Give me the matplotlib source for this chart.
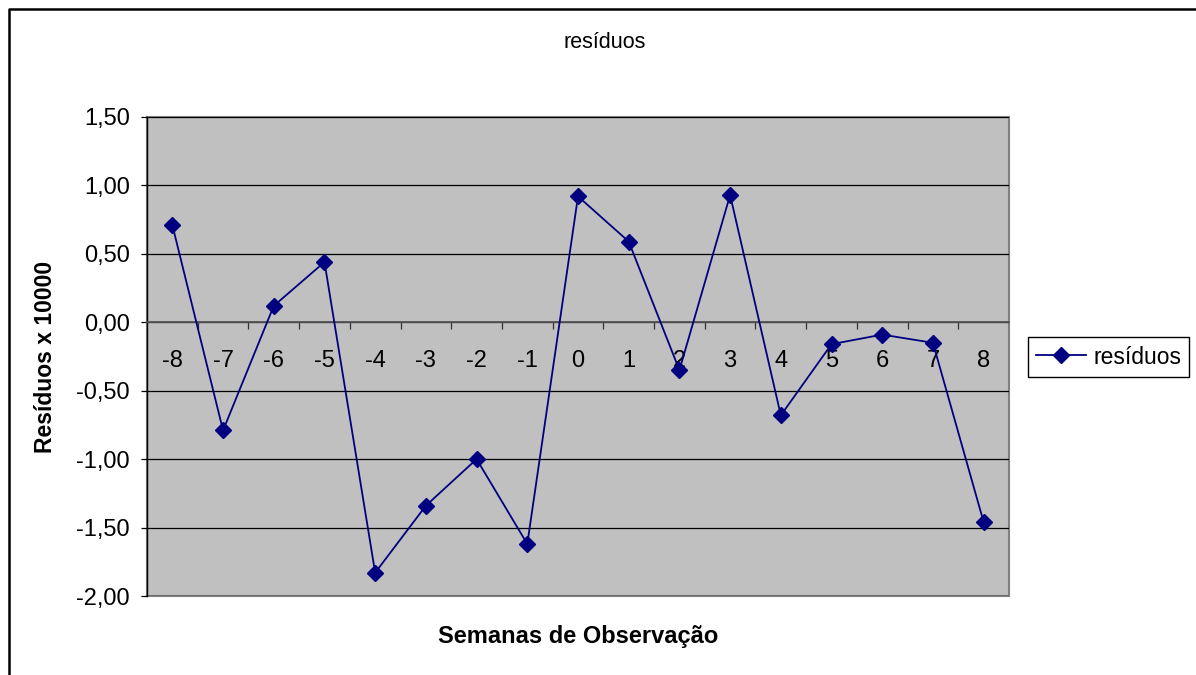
import matplotlib
matplotlib.use('Agg')
import matplotlib.pyplot as plt
from matplotlib.lines import Line2D
from matplotlib.patches import Rectangle
from matplotlib.ticker import FuncFormatter

plt.rcParams['font.family'] = ['Liberation Sans', 'DejaVu Sans']

# semanas de observação e resíduos (x 10000)
semanas = [-8, -7, -6, -5, -4, -3, -2, -1, 0, 1, 2, 3, 4, 5, 6, 7, 8]
residuos = [0.71, -0.79, 0.12, 0.44, -1.83, -1.34, -1.00, -1.62, 0.92,
            0.59, -0.35, 0.93, -0.68, -0.16, -0.09, -0.15, -1.46]
y_ticks = [1.5, 1.0, 0.5, 0.0, -0.5, -1.0, -1.5, -2.0]

W, H = 1196, 675
fig = plt.figure(figsize=(W / 100, H / 100), dpi=100)
ax = fig.add_axes([147 / W, 1 - 596 / H, (1009 - 147) / W, (596 - 117) / H])
ax.set_facecolor('#C0C0C0')

pos = list(range(len(semanas)))
ax.plot(pos, residuos, color='#000080', lw=1.3, marker='D', markersize=8,
        label='resíduos', zorder=5)

ax.set_xlim(-0.5, len(semanas) - 0.5)
ax.set_ylim(min(y_ticks), max(y_ticks))

# grade horizontal
for v in y_ticks:
    ax.axhline(v, color='black', lw=0.9, zorder=1)

ax.set_yticks(y_ticks)
ax.yaxis.set_major_formatter(FuncFormatter(lambda v, p: f'{v:.2f}'.replace('.', ',')))
ax.tick_params(axis='y', direction='out', length=4.5, width=0.9, pad=8, labelsize=17)

# eixo x cruzando em zero
ax.spines['bottom'].set_position(('data', 0))
ax.spines['bottom'].set_color('#555555')
ax.spines['bottom'].set_linewidth(1.3)
ax.set_xticks([p - 0.5 for p in pos[1:]])
ax.set_xticklabels([])
ax.set_xticks(pos, minor=True)
ax.set_xticklabels([str(s) for s in semanas], minor=True)
ax.tick_params(axis='x', which='major', direction='out', length=5, width=0.9, color='#333333')
ax.tick_params(axis='x', which='minor', length=0, pad=20, labelsize=17)

for s in ['top', 'right']:
    ax.spines[s].set_visible(False)
ax.spines['left'].set_color('black')
ax.spines['left'].set_linewidth(1.0)
ax.add_patch(Rectangle((0, 0), 1, 1, transform=ax.transAxes, fill=False,
                       edgecolor='#808080', lw=1.5, clip_on=False, zorder=0.5))

fig.text(605 / W, 1 - 42 / H, 'resíduos', ha='center', va='center', fontsize=15.5)
fig.text(578 / W, 1 - 636 / H, 'Semanas de Observação', ha='center', va='center',
         fontsize=17, fontweight='bold')
fig.text(46 / W, 1 - 357 / H, 'Resíduos x 10000', ha='center', va='center',
         rotation=90, fontsize=16.5, fontweight='bold')

leg = ax.legend(loc='center left', bbox_to_anchor=(1028 / W, 1 - 357 / H),
                bbox_transform=fig.transFigure, fontsize=16.5, fancybox=False,
                framealpha=1, edgecolor='black', handlelength=2.2,
                handletextpad=0.3, borderpad=0.35, borderaxespad=0)
leg.get_frame().set_linewidth(1.0)

# moldura externa
fig.add_artist(Line2D([8.5 / W, 8.5 / W, 1.0], [0.0, 1 - 8.5 / H, 1 - 8.5 / H],
                      transform=fig.transFigure, color='black', lw=1.8))

fig.savefig('out.png', dpi=100)
